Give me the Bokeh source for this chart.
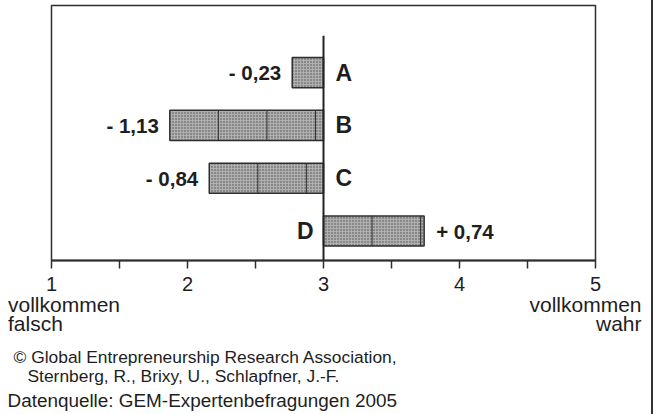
from bokeh.plotting import figure
from bokeh.models import Range1d, FixedTicker, ColumnDataSource, LinearAxis
from bokeh.embed import file_html
from bokeh.resources import INLINE
from bokeh.core.properties import value

# ---- data ----
categories = ["A", "B", "C", "D"]
deviations = [-0.23, -1.13, -0.84, 0.74]
value_labels = ["- 0,23", "- 1,13", "- 0,84", "+ 0,74"]
tick_values = [1, 2, 3, 4, 5]
tick_labels = ["1", "2", "3", "4", "5"]
scale_mid = 3
left_caption = ["vollkommen", "falsch"]
right_caption = ["vollkommen", "wahr"]
footer_lines = [
    "© Global Entrepreneurship Research Association,",
    "Sternberg, R., Brixy, U., Schlapfner, J.-F.",
    "Datenquelle: GEM-Expertenbefragungen 2005",
]

# ---- layout / style (pixels on the page) ----
FONT = "Liberation Sans"
TXT = "#1e1e1e"
LINE = "#2e2e2e"
W, H = 653, 414
BOX_L, BOX_R, BOX_T, BOX_B = 51, 595, 5, 260      # plot box in page pixels
ROW0_PX, ROW_STEP_PX = 230.5, 52.8                  # centre of lowest row, row pitch

x_per_px = (tick_values[-1] - tick_values[0]) / (BOX_R - BOX_L)


def X(px):
    return tick_values[0] + (px - BOX_L) * x_per_px


def Y(py):
    return (ROW0_PX - py) / ROW_STEP_PX


n = len(categories)
rows = [n - 1 - i for i in range(n)]
lefts = [min(scale_mid, scale_mid + d) for d in deviations]
rights = [max(scale_mid, scale_mid + d) for d in deviations]

src = ColumnDataSource(dict(
    y=rows, left=lefts, right=rights, cat=categories, val=value_labels,
    val_x=[l if d < 0 else r for l, r, d in zip(lefts, rights, deviations)],
    val_off=[-11 if d < 0 else 12 for d in deviations],
    val_align=["right" if d < 0 else "left" for d in deviations],
    cat_x=[scale_mid] * n,
    cat_off=[12 if d < 0 else -10 for d in deviations],
    cat_align=["left" if d < 0 else "right" for d in deviations],
))

p = figure(width=W, height=H, output_backend="svg", toolbar_location=None,
           x_range=Range1d(X(0), X(W)), y_range=Range1d(Y(H), Y(0)),
           x_axis_location=None, y_axis_location=None,
           min_border=0, min_border_left=0, min_border_right=0,
           min_border_top=0, min_border_bottom=0,
           styles={"border-right": "2px solid #333333"})

p.grid.visible = False
p.outline_line_color = None
p.background_fill_color = "white"
p.border_fill_color = "white"

box_bottom = Y(BOX_B)

# plot box
p.quad(left=[tick_values[0]], right=[tick_values[-1]], bottom=[box_bottom], top=[Y(BOX_T)],
       fill_color=None, line_color=LINE, line_width=1.5)

# bars
p.hbar(y="y", left="left", right="right", height=0.57, source=src,
       fill_color="#b0b0b0", hatch_pattern="dot", hatch_color="#4a4a4a",
       hatch_scale=3, hatch_weight=1, line_color=LINE, line_width=1.5)

# tile seams inside bars (pattern tiling seams of the original)
tile = 0.357
dx0, dx1, dy0, dy1 = [], [], [], []
for yy, l, r in zip(rows, lefts, rights):
    x = l + tile
    while x < r - 0.01:
        dx0.append(x); dx1.append(x)
        dy0.append(yy - 0.285); dy1.append(yy + 0.285)
        x += tile
p.segment(x0=dx0, y0=dy0, x1=dx1, y1=dy1, line_color=LINE, line_width=1)

# centre line at scale midpoint
p.segment(x0=[scale_mid], y0=[box_bottom], x1=[scale_mid], y1=[n - 1 + 0.7],
          line_color="#222222", line_width=2)

# value labels
p.text(x="val_x", y="y", text="val", x_offset="val_off", text_align="val_align",
       text_baseline="middle", source=src, text_font=value(FONT),
       text_font_style="bold", text_font_size="20.5px", text_color=TXT)
# category labels
p.text(x="cat_x", y="y", text="cat", x_offset="cat_off", text_align="cat_align",
       text_baseline="middle", source=src, text_font=value(FONT),
       text_font_style="bold", text_font_size="23px", text_color=TXT)

# x axis, pinned to the bottom of the plot box
minor = [(a + b) / 2 for a, b in zip(tick_values[:-1], tick_values[1:])]
ax = LinearAxis(fixed_location=box_bottom,
                bounds=(tick_values[0], tick_values[-1]),
                ticker=FixedTicker(ticks=tick_values, minor_ticks=minor),
                major_label_overrides={v: t for v, t in zip(tick_values, tick_labels)})
ax.axis_line_color = LINE
ax.axis_line_width = 2
ax.major_tick_line_color = LINE
ax.minor_tick_line_color = LINE
ax.major_tick_line_width = 1.5
ax.minor_tick_line_width = 1.5
ax.major_tick_in = 0
ax.major_tick_out = 8
ax.minor_tick_in = 0
ax.minor_tick_out = 8
ax.major_label_standoff = 8
ax.major_label_text_font = FONT
ax.major_label_text_font_size = "20px"
ax.major_label_text_color = TXT
p.add_layout(ax, "below")

# scale end captions
cap_src = ColumnDataSource(dict(
    x=[X(7.5), X(7.5), X(641), X(641)],
    y=[Y(304), Y(322.5), Y(304), Y(322.5)],
    text=left_caption + right_caption,
    align=["left", "left", "right", "right"],
))
p.text(x="x", y="y", text="text", text_align="align", text_baseline="alphabetic",
       source=cap_src, text_font=value(FONT), text_font_size="21px", text_color=TXT)

# source / copyright footer
foot_src = ColumnDataSource(dict(
    x=[X(13), X(27), X(7)],
    y=[Y(356.5), Y(375.5), Y(400)],
    text=footer_lines,
    size=["17.4px", "17.4px", "18.9px"],
))
p.text(x="x", y="y", text="text", text_align="left", text_baseline="alphabetic",
       text_font_size="size", source=foot_src, text_font=value(FONT), text_color=TXT)

open("out.html", "w").write(file_html(p, INLINE))
